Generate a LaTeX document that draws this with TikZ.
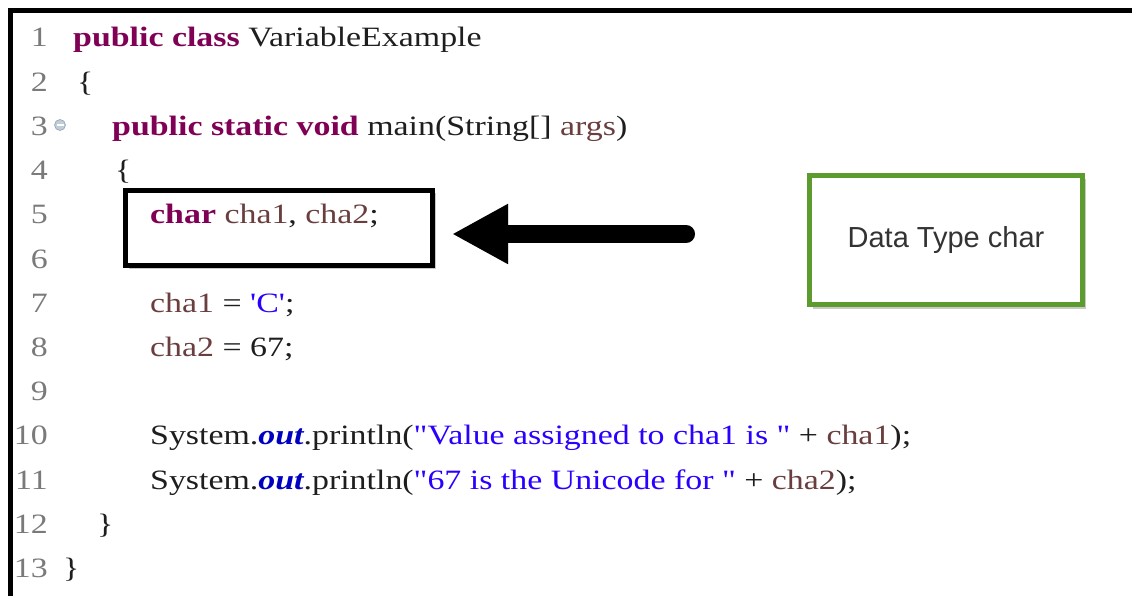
\documentclass[tikz,border=0pt]{standalone}
\usepackage{fontspec}
\usetikzlibrary{arrows.meta,shadows}
\newfontfamily\codef{Liberation Serif}[FakeStretch=1.21]
\newfontfamily\labf{Liberation Sans}
\definecolor{kwc}{HTML}{7F0055}
\definecolor{varc}{HTML}{6A3E3E}
\definecolor{strc}{HTML}{2A00FF}
\definecolor{outc}{HTML}{0000C0}
\definecolor{darkc}{HTML}{1E1E1E}
\definecolor{numc}{HTML}{7A7A7A}
\definecolor{greenc}{HTML}{5C9B2E}
\definecolor{labc}{HTML}{333333}
\definecolor{iconc}{HTML}{BFCCDA}
\newcommand\jkw[1]{\textcolor{kwc}{\bfseries #1}}
\newcommand\jvar[1]{\textcolor{varc}{#1}}
\newcommand\jstr[1]{\textcolor{strc}{#1}}
\newcommand\jout[1]{\textcolor{outc}{\bfseries\itshape #1}}
\tikzset{
  linenum/.style={anchor=base east, inner sep=0pt, text=numc, font=\codef\fontsize{28}{28}\selectfont},
  codeline/.style={anchor=base west, inner sep=0pt, text=darkc, font=\codef\fontsize{28}{28}\selectfont},
  declbox/.style={draw=black, line width=5pt, fill=white, minimum width=307pt, minimum height=75pt, inner sep=0pt,
    drop shadow={shadow xshift=3pt, shadow yshift=-3pt, opacity=0.35, fill=black!60}},
  notebox/.style={draw=greenc, line width=5pt, fill=white, minimum width=273pt, minimum height=129pt, inner sep=0pt,
    text=labc, font=\labf\fontsize{29}{29}\selectfont,
    drop shadow={shadow xshift=3pt, shadow yshift=-4pt, opacity=0.35, fill=black!60}},
  bigarrow/.style={line width=18pt, line cap=round, -{Triangle[length=56pt,width=56pt]}},
  frameline/.style={line width=5pt, black}
}
\newcommand\codeln[3]{%
  \node[linenum] (n#1) at (48,{47+(#1-1)*44.2}) {#1};
  \node[codeline] (c#1) at (#2,{47+(#1-1)*44.2}) {#3};}
\begin{document}
\begin{tikzpicture}[x=1pt,y=-1pt]
\useasboundingbox (0,0) rectangle (1132,596);
\fill[white] (0,0) rectangle (1132,596);
% outer frame
\coordinate (ftl) at (10,11);
\coordinate (ftr) at (1132,11);
\coordinate (fbl) at (10,596);
\draw[frameline] (fbl) -- (ftl) -- (ftr);
% code lines 1-4
\codeln{1}{73}{\jkw{public class} VariableExample}
\codeln{2}{77}{\{}
\codeln{3}{112}{\jkw{public static void} main(String[] \jvar{args})}
\codeln{4}{115}{\{}
\node[circle, fill=iconc, draw=iconc!80!black, line width=0.6pt, minimum size=11pt, inner sep=0pt] (fold) at (60,125) {};
\draw[line width=1.4pt, white] ([xshift=-3.5pt]fold.center) -- ([xshift=3.5pt]fold.center);
% declaration box
\node[declbox] (decl) at (279,228) {};
% code lines 5-13
\codeln{5}{150}{\jkw{char} \jvar{cha1}, \jvar{cha2};}
\codeln{6}{150}{}
\codeln{7}{150}{\jvar{cha1} = \jstr{'C'};}
\codeln{8}{150}{\jvar{cha2} = 67;}
\codeln{9}{150}{}
\codeln{10}{150}{System.\jout{out}.println(\jstr{"Value assigned to cha1 is "} + \jvar{cha1});}
\codeln{11}{150}{System.\jout{out}.println(\jstr{"67 is the Unicode for "} + \jvar{cha2});}
\codeln{12}{97}{\}}
\codeln{13}{63}{\}}
% label box
\node[notebox] (note) at (946,240) {Data Type char};
% arrow
\coordinate (astart) at (686,234);
\path (decl.east |- astart) ++(17,0) coordinate (aend);
\draw[bigarrow, black!60, opacity=0.3, xshift=2pt, yshift=-3pt] (astart) -- (aend);
\draw[bigarrow, black] (astart) -- (aend);
\end{tikzpicture}
\end{document}
